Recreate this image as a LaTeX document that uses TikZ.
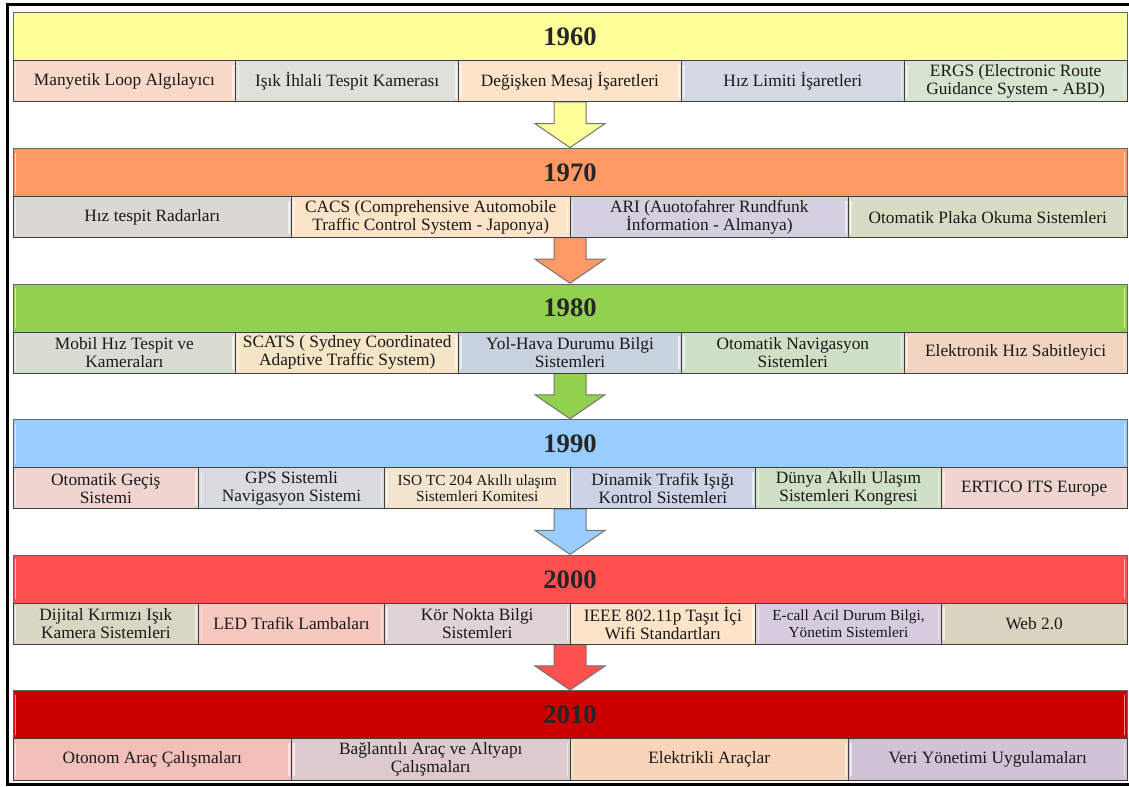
\documentclass[tikz,border=0pt]{standalone}
\usepackage{fontspec}
\setmainfont{Liberation Serif}
\usepackage{tikz}
\usetikzlibrary{calc}

% year colours
\definecolor{yr60}{HTML}{FFFF99}
\definecolor{yr70}{HTML}{FF9966}
\definecolor{yr80}{HTML}{92D050}
\definecolor{yr90}{HTML}{99CCFF}
\definecolor{yr00}{HTML}{FF5050}
\definecolor{yr10}{HTML}{CC0000}
% item colours
\definecolor{peach}{HTML}{F8D9C8}
\definecolor{pgray}{HTML}{E0E0DA}
\definecolor{porange}{HTML}{FDE4C8}
\definecolor{pblue}{HTML}{D5D9E3}
\definecolor{pgreen}{HTML}{D7E4CF}
\definecolor{pstone}{HTML}{DDD7D3}
\definecolor{plilac}{HTML}{D4D0E0}
\definecolor{polive}{HTML}{D8DCC4}
\definecolor{pmoss}{HTML}{D8DDD4}
\definecolor{psand}{HTML}{F3E5C6}
\definecolor{psteel}{HTML}{C9D3DD}
\definecolor{pmint}{HTML}{CFE0C7}
\definecolor{pskin}{HTML}{F2D5C0}
\definecolor{prose}{HTML}{F0D4D0}
\definecolor{psilver}{HTML}{D8DCE0}
\definecolor{pcream}{HTML}{F3E5CE}
\definecolor{pperi}{HTML}{CDD3E6}
\definecolor{pkhaki}{HTML}{D9D6C4}
\definecolor{psalmon}{HTML}{F6C8C0}
\definecolor{pmauve}{HTML}{E0D3D6}
\definecolor{pplum}{HTML}{D6CCDD}
\definecolor{pbeige}{HTML}{D9D4BF}
\definecolor{pcoral}{HTML}{F2C0B8}
\definecolor{pdusk}{HTML}{DDCACC}
\definecolor{papricot}{HTML}{F8D4B8}
\definecolor{pviolet}{HTML}{D1C3D6}

\begin{document}
\begin{tikzpicture}[x=0.75pt,y=-0.75pt]
        \tikzstyle{bevel}=[
            path picture={\draw[white, opacity=0.6, line width=1.2pt]
                ([xshift=2pt,yshift=-3pt]path picture bounding box.north west) -- ([xshift=2pt,yshift=3pt]path picture bounding box.south west)
                ([xshift=-2pt,yshift=-3pt]path picture bounding box.north east) -- ([xshift=-2pt,yshift=3pt]path picture bounding box.south east);}
        ]
        \tikzstyle{yearbox}=[
            bevel,
            draw=black!60,
            line width=0.75pt,
            anchor=north west,
            outer sep=0pt,
            inner sep=0pt,
            minimum width=835.5pt,
            minimum height=36pt,
            font=\fontsize{20}{24}\selectfont\bfseries,
            text=black!85
        ]
        \tikzstyle{itembox}=[
            bevel,
            draw=black!75,
            line width=0.75pt,
            anchor=north west,
            outer sep=0pt,
            inner sep=0pt,
            minimum height=30.75pt,
            align=center,
            font=\fontsize{13}{13.5}\selectfont,
            text=black!90
        ]
        \tikzstyle{item5}=[itembox, minimum width=167.1pt]
        \tikzstyle{item4}=[itembox, minimum width=208.9pt]
        \tikzstyle{item6}=[itembox, minimum width=139.25pt]
        \tikzstyle{smalltext}=[font=\fontsize{11.5}{12.5}\selectfont]
        \tikzstyle{blockarrow}=[draw=black!55, line width=0.75pt]

        \useasboundingbox (0,0) rectangle (1129,787);
        \draw[line width=2.25pt] (7,5) rectangle (1135,784);

        % year bands
        \node[yearbox, fill=yr60] (h60) at (13,13) {1960};
        \node[yearbox, fill=yr70] (h70) at (13,148.6) {1970};
        \node[yearbox, fill=yr80] (h80) at (13,284.2) {1980};
        \node[yearbox, fill=yr90] (h90) at (13,419.8) {1990};
        \node[yearbox, fill=yr00] (h00) at (13,555.4) {2000};
        \node[yearbox, fill=yr10] (h10) at (13,691) {2010};

        % arrows between the years
        \draw[blockarrow, fill=yr60] ($(h60.south)+(-16,41)$) -- ($(h60.south)+(16,41)$) -- ($(h70.north)+(16,-25)$) -- ($(h70.north)+(35,-25)$) -- ($(h70.north)+(0,-1)$) -- ($(h70.north)+(-35,-25)$) -- ($(h70.north)+(-16,-25)$) -- cycle;
        \draw[blockarrow, fill=yr70] ($(h70.south)+(-16,41)$) -- ($(h70.south)+(16,41)$) -- ($(h80.north)+(16,-25)$) -- ($(h80.north)+(35,-25)$) -- ($(h80.north)+(0,-1)$) -- ($(h80.north)+(-35,-25)$) -- ($(h80.north)+(-16,-25)$) -- cycle;
        \draw[blockarrow, fill=yr80] ($(h80.south)+(-16,41)$) -- ($(h80.south)+(16,41)$) -- ($(h90.north)+(16,-25)$) -- ($(h90.north)+(35,-25)$) -- ($(h90.north)+(0,-1)$) -- ($(h90.north)+(-35,-25)$) -- ($(h90.north)+(-16,-25)$) -- cycle;
        \draw[blockarrow, fill=yr90] ($(h90.south)+(-16,41)$) -- ($(h90.south)+(16,41)$) -- ($(h00.north)+(16,-25)$) -- ($(h00.north)+(35,-25)$) -- ($(h00.north)+(0,-1)$) -- ($(h00.north)+(-35,-25)$) -- ($(h00.north)+(-16,-25)$) -- cycle;
        \draw[blockarrow, fill=yr00] ($(h00.south)+(-16,41)$) -- ($(h00.south)+(16,41)$) -- ($(h10.north)+(16,-25)$) -- ($(h10.north)+(35,-25)$) -- ($(h10.north)+(0,-1)$) -- ($(h10.north)+(-35,-25)$) -- ($(h10.north)+(-16,-25)$) -- cycle;

        % 1960
        \node[item5, fill=peach] (i60a) at (13,61) {Manyetik Loop Algılayıcı};
        \node[item5, fill=pgray] (i60b) at (235.8,61) {Işık İhlali Tespit Kamerası};
        \node[item5, fill=porange] (i60c) at (458.6,61) {Değişken Mesaj İşaretleri};
        \node[item5, fill=pblue] (i60d) at (681.4,61) {Hız Limiti İşaretleri};
        \node[item5, fill=pgreen] (i60e) at (904.2,61) {ERGS (Electronic Route\\Guidance System - ABD)};

        % 1970
        \node[item4, fill=pstone] (i70a) at (13,196.6) {Hız tespit Radarları};
        \node[item4, fill=porange] (i70b) at (291.5,196.6) {CACS (Comprehensive Automobile\\Traffic Control System - Japonya)};
        \node[item4, fill=plilac] (i70c) at (570,196.6) {ARI (Auotofahrer Rundfunk\\İnformation - Almanya)};
        \node[item4, fill=polive] (i70d) at (848.5,196.6) {Otomatik Plaka Okuma Sistemleri};

        % 1980
        \node[item5, fill=pmoss] (i80a) at (13,332.2) {Mobil Hız Tespit ve\\Kameraları};
        \node[item5, fill=psand] (i80b) at (235.8,332.2) {SCATS ( Sydney Coordinated\\Adaptive Traffic System)};
        \node[item5, fill=psteel] (i80c) at (458.6,332.2) {Yol-Hava Durumu Bilgi\\Sistemleri};
        \node[item5, fill=pmint] (i80d) at (681.4,332.2) {Otomatik Navigasyon\\Sistemleri};
        \node[item5, fill=pskin] (i80e) at (904.2,332.2) {Elektronik Hız Sabitleyici};

        % 1990
        \node[item6, fill=prose] (i90a) at (13,467.8) {Otomatik Geçiş\\Sistemi};
        \node[item6, fill=psilver] (i90b) at (198.67,467.8) {GPS Sistemli\\Navigasyon Sistemi};
        \node[item6, fill=pcream, smalltext] (i90c) at (384.33,467.8) {ISO TC 204 Akıllı ulaşım\\Sistemleri Komitesi};
        \node[item6, fill=pperi] (i90d) at (570,467.8) {Dinamik Trafik Işığı\\Kontrol Sistemleri};
        \node[item6, fill=pmint] (i90e) at (755.67,467.8) {Dünya Akıllı Ulaşım\\Sistemleri Kongresi};
        \node[item6, fill=prose] (i90f) at (941.33,467.8) {ERTICO ITS Europe};

        % 2000
        \node[item6, fill=pkhaki] (i00a) at (13,603.4) {Dijital Kırmızı Işık\\Kamera Sistemleri};
        \node[item6, fill=psalmon] (i00b) at (198.67,603.4) {LED Trafik Lambaları};
        \node[item6, fill=pmauve] (i00c) at (384.33,603.4) {Kör Nokta Bilgi\\Sistemleri};
        \node[item6, fill=porange] (i00d) at (570,603.4) {IEEE 802.11p Taşıt İçi\\Wifi Standartları};
        \node[item6, fill=pplum, smalltext] (i00e) at (755.67,603.4) {E-call Acil Durum Bilgi,\\Yönetim Sistemleri};
        \node[item6, fill=pbeige] (i00f) at (941.33,603.4) {Web 2.0};

        % 2010
        \node[item4, fill=pcoral] (i10a) at (13,739) {Otonom Araç Çalışmaları};
        \node[item4, fill=pdusk] (i10b) at (291.5,739) {Bağlantılı Araç ve Altyapı\\Çalışmaları};
        \node[item4, fill=papricot] (i10c) at (570,739) {Elektrikli Araçlar};
        \node[item4, fill=pviolet] (i10d) at (848.5,739) {Veri Yönetimi Uygulamaları};

    \end{tikzpicture}
\end{document}
